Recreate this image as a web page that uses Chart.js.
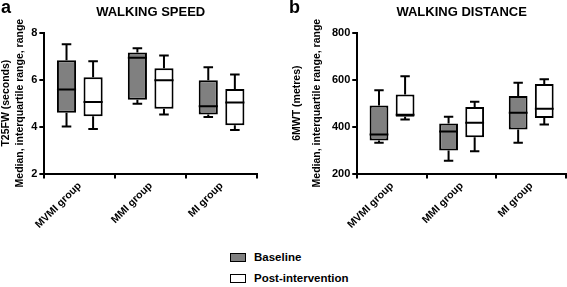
<!DOCTYPE html>
<html>
<head>
<meta charset="utf-8">
<script src="https://cdn.jsdelivr.net/npm/chart.js@4/dist/chart.umd.min.js"></script>
<style>
  body { margin: 0; background: #fff; font-family: "Liberation Sans", Arial, sans-serif; }
  #wrap { position: relative; width: 567px; height: 287px; overflow: hidden; }
  .panel { position: absolute; top: 0; }
  .letter { position: absolute; top: -3px; font-weight: bold; font-size: 18px; }
  .legend { position: absolute; left: 230px; font-weight: bold; font-size: 11.5px; }
  .legend span.sw { display: inline-block; width: 14px; height: 7px; border: 1.5px solid #000; vertical-align: middle; margin-right: 8px; }
</style>
</head>
<body>
<div id="wrap">
  <div class="panel" style="left:0;width:283px;height:232px"><canvas id="speed"></canvas></div>
  <div class="panel" style="left:283px;width:284px;height:232px"><canvas id="distance"></canvas></div>
  <div class="letter" style="left:1px">a</div>
  <div class="letter" style="left:289px">b</div>
  <div class="legend" style="top:251px"><span class="sw" style="background:#808080"></span>Baseline</div>
  <div class="legend" style="top:272px"><span class="sw" style="background:#fff"></span>Post-intervention</div>
</div>
<script>
const groups = ['MVMI group', 'MMI group', 'MI group'];

// walking speed (T25FW, seconds): min, q1, median, q3, max
const speedBaseMin = [4.0, 4.97, 4.41];
const speedBaseQ1  = [4.59, 5.14, 4.52];
const speedBaseMed = [5.58, 6.93, 4.87];
const speedBaseQ3  = [6.82, 7.15, 5.97];
const speedBaseMax = [7.5, 7.33, 6.53];

const speedPostMin = [3.9, 4.52, 3.86];
const speedPostQ1  = [4.44, 4.76, 4.06];
const speedPostMed = [5.05, 5.97, 5.03];
const speedPostQ3  = [6.10, 6.48, 5.6];
const speedPostMax = [6.78, 7.03, 6.22];

// walking distance (6MWT, metres)
const distBaseMin = [331, 255, 331];
const distBaseQ1  = [341, 298, 388];
const distBaseMed = [366, 379, 459];
const distBaseQ3  = [490, 413, 530];
const distBaseMax = [555, 442, 587];

const distPostMin = [430, 295, 409];
const distPostQ1  = [442, 355, 437];
const distPostMed = [450, 416, 476];
const distPostQ3  = [537, 483, 581];
const distPostMax = [614, 506, 601];

const FONT = 'Liberation Sans';

// draws median line and whiskers on top of the floating bars
const boxPlugin = {
  id: 'boxWhiskers',
  afterDatasetsDraw(chart) {
    const ctx = chart.ctx;
    const y = chart.scales.y;
    ctx.save();
    ctx.strokeStyle = '#000';
    ctx.lineWidth = 2;
    chart.data.datasets.forEach((ds, di) => {
      const meta = chart.getDatasetMeta(di);
      meta.data.forEach((bar, i) => {
        const x = bar.x;
        const w = bar.width;
        const yMin = y.getPixelForValue(ds.stats.min[i]);
        const yQ1 = y.getPixelForValue(ds.stats.q1[i]);
        const yMed = y.getPixelForValue(ds.stats.med[i]);
        const yQ3 = y.getPixelForValue(ds.stats.q3[i]);
        const yMax = y.getPixelForValue(ds.stats.max[i]);
        ctx.beginPath();
        ctx.moveTo(x - w / 2, yMed); ctx.lineTo(x + w / 2, yMed);
        ctx.moveTo(x, yQ3); ctx.lineTo(x, yMax);
        ctx.moveTo(x - w / 4, yMax); ctx.lineTo(x + w / 4, yMax);
        ctx.moveTo(x, yQ1); ctx.lineTo(x, yMin);
        ctx.moveTo(x - w / 4, yMin); ctx.lineTo(x + w / 4, yMin);
        ctx.stroke();
      });
    });
    ctx.restore();
  }
};

function makeSet(label, color, mn, q1, med, q3, mx) {
  return {
    label: label,
    data: q1.map((v, i) => [v, q3[i]]),
    stats: { min: mn, q1: q1, med: med, q3: q3, max: mx },
    backgroundColor: color,
    borderColor: '#000',
    borderWidth: 2,
    borderSkipped: false,
    categoryPercentage: 0.75,
    barPercentage: 0.72
  };
}

function makeChart(id, title, yTitle, yMin, yMax, step, padding, titleLH, sets) {
  return new Chart(document.getElementById(id), {
    type: 'bar',
    data: { labels: groups, datasets: sets },
    plugins: [boxPlugin],
    options: {
      responsive: true,
      maintainAspectRatio: false,
      animation: false,
      layout: { padding: padding },
      plugins: {
        legend: { display: false },
        tooltip: { enabled: false },
        title: {
          display: true,
          text: title,
          fullSize: false,
          color: '#000',
          font: { family: FONT, size: 13, weight: 'bold' },
          padding: { top: 5, bottom: 12 }
        }
      },
      scales: {
        x: {
          grid: { display: true, drawOnChartArea: false, drawTicks: true, tickLength: 5, color: '#000', lineWidth: 2 },
          border: { display: true, color: '#000', width: 2 },
          ticks: {
            color: '#000', minRotation: 45, maxRotation: 45, padding: 1,
            font: { family: FONT, size: 10.5, weight: 'bold' }
          }
        },
        y: {
          min: yMin, max: yMax,
          grid: { display: true, drawOnChartArea: false, drawTicks: true, tickLength: 5, color: '#000', lineWidth: 2 },
          border: { display: true, color: '#000', width: 2 },
          ticks: {
            stepSize: step, color: '#000', padding: 2,
            font: { family: FONT, size: 11, weight: 'bold' }
          },
          title: {
            display: true, text: yTitle, color: '#000',
            font: { family: FONT, size: 10.5, weight: 'bold', lineHeight: titleLH },
            padding: { top: 0, bottom: 3 }
          }
        }
      }
    }
  });
}

makeChart('speed', 'WALKING SPEED', ['T25FW (seconds)', 'Median, interquartile range, range'], 2, 8, 2,
  { left: 0, right: 26, top: 0, bottom: 0 }, 1.25,
  [
    makeSet('Baseline', '#808080', speedBaseMin, speedBaseQ1, speedBaseMed, speedBaseQ3, speedBaseMax),
    makeSet('Post-intervention', '#ffffff', speedPostMin, speedPostQ1, speedPostMed, speedPostQ3, speedPostMax)
  ]);

makeChart('distance', 'WALKING DISTANCE', ['6MWT (metres)', 'Median, interquartile range, range'], 200, 800, 200,
  { left: 4, right: 1, top: 0, bottom: 0 }, 1.9,
  [
    makeSet('Baseline', '#808080', distBaseMin, distBaseQ1, distBaseMed, distBaseQ3, distBaseMax),
    makeSet('Post-intervention', '#ffffff', distPostMin, distPostQ1, distPostMed, distPostQ3, distPostMax)
  ]);
</script>
</body>
</html>
